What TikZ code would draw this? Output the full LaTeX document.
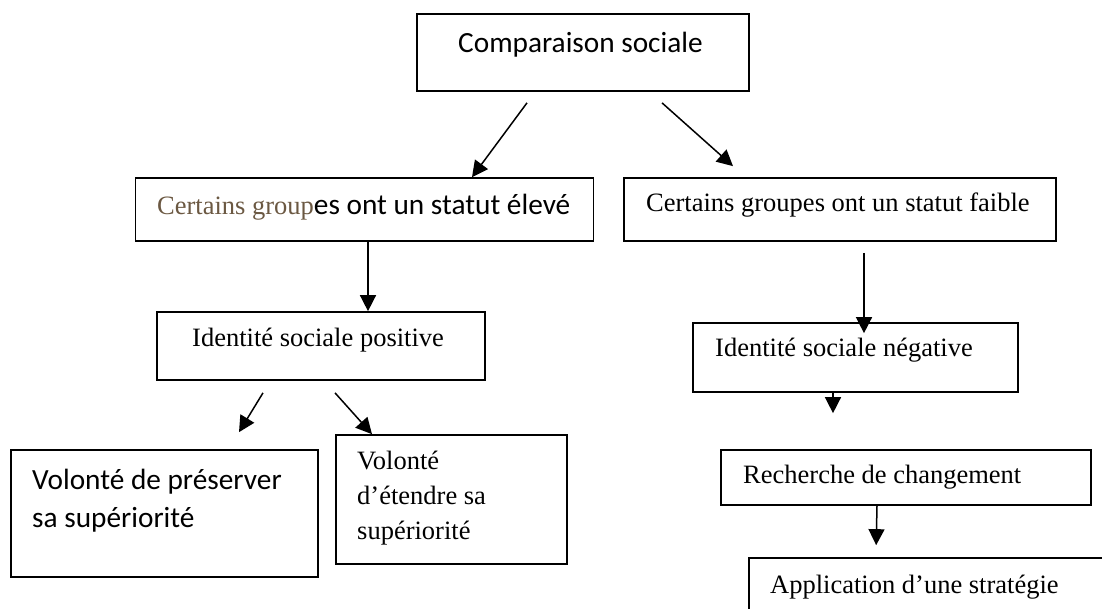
\documentclass[tikz,border=0pt]{standalone}
\usepackage{fontspec}
\setmainfont{Liberation Serif}
\newfontfamily\calibfont{Carlito}
\usetikzlibrary{arrows.meta}
\definecolor{brun}{RGB}{107,88,66}

\begin{document}
\begin{tikzpicture}[x=1pt, y=-1pt,
    boite/.style={draw, line width=1.7pt, inner sep=0pt},
    fleche/.style={line width=1.5pt, -{Triangle[length=16pt,width=16pt]}},
    txtserif/.style={anchor=west, inner sep=0pt, align=left, font=\fontsize{26.5}{35}\selectfont},
    txtsans/.style={anchor=west, inner sep=0pt, align=left, font=\calibfont\fontsize{29.3}{38}\selectfont}]
    \useasboundingbox (0,0) rectangle (1102,608);
    \clip (0,0) rectangle (1102,608);

    % Cadres
    \node[boite, minimum width=332pt, minimum height=77pt] (cmp) at (583,52.5) {};
    \node[boite, minimum width=458pt, minimum height=63pt] (haut) at (364.5,209.5) {};
    \node[boite, minimum width=431.5pt, minimum height=63pt] (bas) at (840,209.5) {};
    \node[boite, minimum width=328pt, minimum height=68pt] (idpos) at (321,346) {};
    \node[boite, minimum width=325pt, minimum height=69pt] (idneg) at (855.5,357.5) {};
    \node[boite, minimum width=307pt, minimum height=127pt] (pres) at (164.5,513.5) {};
    \node[boite, minimum width=231pt, minimum height=129pt] (ext) at (451.5,499.5) {};
    \node[boite, minimum width=370pt, minimum height=55pt] (rech) at (906,477.5) {};
    \node[boite, minimum width=400pt, minimum height=100pt] (appl) at (949,608) {};

    % Textes
    \node[txtsans] (tcmp) at (458,45) {Comparaison sociale};
    \node[txtserif] (thaut) at (157,207) {\textcolor{brun}{Certains group}{\calibfont\fontsize{29.3}{38}\selectfont es ont un statut élevé}};
    \node[txtserif] (tbas) at (646,205) {Certains groupes ont un statut faible};
    \node[txtserif] (tidpos) at (192,340) {Identité sociale positive};
    \node[txtserif] (tidneg) at (715,350) {Identité sociale négative};
    \node[txtsans] (tpres) at (32,501) {Volonté de préserver\\sa supériorité};
    \node[txtserif] (text) at (357,498) {Volonté\\d’étendre sa\\supériorité};
    \node[txtserif] (trech) at (743,477) {Recherche de changement};
    \node[txtserif] (tappl) at (770,587) {Application d’une stratégie};

    % Fleches
    \draw[fleche] ([shift={(-56,11)}]cmp.south) -- ([xshift=107.5pt]haut.north);
    \draw[fleche] ([shift={(79,11)}]cmp.south) -- ([shift={(-107,-11)}]bas.north);
    \draw[fleche] ([xshift=3.5pt]haut.south) -- ([xshift=3.5pt]haut.south |- idpos.north);
    \draw[fleche] ([shift={(24,11)}]bas.south) -- ([shift={(24,11)}]bas.south |- idneg.north);
    \draw[fleche] ([shift={(-58,12)}]idpos.south) -- ([shift={(74.5,-17)}]pres.north);
    \draw[fleche] ([shift={(14,12)}]idpos.south) -- ([xshift=-79.5pt]ext.north);
    \draw[fleche] ([xshift=-22.5pt]idneg.south) -- ([shift={(-73,-36)}]rech.north);
    \draw[fleche] ([xshift=-29pt]rech.south) -- ([shift={(128,-12)}]appl.north west);
\end{tikzpicture}
\end{document}
